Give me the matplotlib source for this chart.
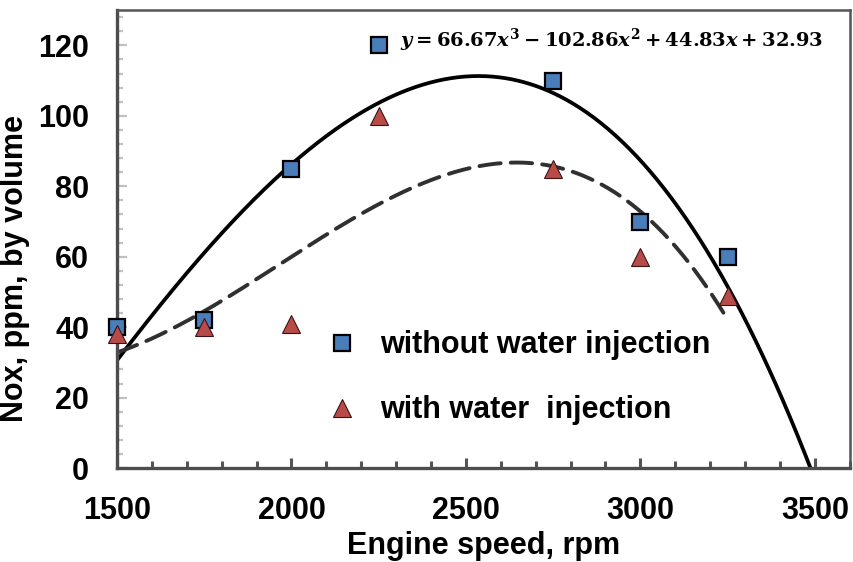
"""NOx emissions vs engine speed, with and without water injection."""

import matplotlib

matplotlib.use("Agg")
import matplotlib.pyplot as plt
import numpy as np
from matplotlib.ticker import MultipleLocator
from numpy.polynomial import Polynomial

speed = [1500, 1750, 2000, 2250, 2750, 3000, 3250]
nox_without = [40, 42, 85, 120, 110, 70, 60]
nox_with = [38, 40, 41, 100, 85, 60, 49]

label_without = "without water injection"
label_with = "with water  injection"
equation = r"$y = 66.67x^3 - 102.86x^2 + 44.83x + 32.93$"

plt.rcParams.update(
    {
        "font.family": ["Liberation Sans", "DejaVu Sans"],
        "font.weight": "bold",
        "axes.labelweight": "bold",
        "font.size": 22,
        "mathtext.fontset": "custom",
        "mathtext.rm": "DejaVu Serif:bold",
        "mathtext.it": "DejaVu Serif:italic:bold",
        "mathtext.bf": "DejaVu Serif:bold",
    }
)

fig = plt.figure(figsize=(8.54, 5.62), dpi=100)
ax = fig.add_axes([0.137, 0.167, 0.858, 0.815])

# cubic trendlines, like the spreadsheet ones
fit_without = Polynomial.fit(speed, nox_without, 3)
fit_with = Polynomial.fit(speed, nox_with, 3)
xs_long = np.linspace(speed[0], 3500, 400)
xs_short = np.linspace(speed[0], speed[-1], 400)
ax.plot(xs_long, fit_without(xs_long), color="black", linewidth=2.7, zorder=2)
ax.plot(xs_short, fit_with(xs_short), color="#303030", linewidth=2.8,
        dashes=(5.5, 2.6), dash_capstyle="round", zorder=2)

ax.plot(speed, nox_without, linestyle="none", marker="s", markersize=11,
        markerfacecolor="#4A7EBB", markeredgecolor="black", markeredgewidth=1.6,
        label=label_without, zorder=3, clip_on=False)
ax.plot(speed, nox_with, linestyle="none", marker="^", markersize=13,
        markerfacecolor="#B84A48", markeredgecolor="#3A1414", markeredgewidth=0.8,
        label=label_with, zorder=3, clip_on=False)

ax.set_xlim(1500, 3600)
ax.set_ylim(0, 130)
ax.xaxis.set_major_locator(MultipleLocator(500))
ax.xaxis.set_minor_locator(MultipleLocator(100))
ax.yaxis.set_major_locator(MultipleLocator(20))
ax.yaxis.set_minor_locator(MultipleLocator(4))
ax.set_xticks([1500, 2000, 2500, 3000, 3500])
ax.set_yticks([0, 20, 40, 60, 80, 100, 120])

ax.tick_params(axis="x", which="both", direction="in", color="#555555", width=2.2, pad=20)
ax.tick_params(axis="x", which="major", length=7)
ax.tick_params(axis="x", which="minor", length=5)
ax.tick_params(axis="y", which="both", direction="in", color="#C0C0C0", width=1.6, pad=20)
ax.tick_params(axis="y", which="major", length=7)
ax.tick_params(axis="y", which="minor", length=4)

for side in ("left", "bottom"):
    ax.spines[side].set_linewidth(2.4)
    ax.spines[side].set_color("#4D4D4D")
for side in ("top", "right"):
    ax.spines[side].set_linewidth(1.8)
    ax.spines[side].set_color("#555555")

ax.set_xlabel("Engine speed, rpm", labelpad=4)
ax.set_ylabel("Nox, ppm, by volume")
ax.yaxis.set_label_coords(-0.119, 0.435)

ax.text(0.386, 0.934, equation, transform=ax.transAxes, fontsize=14, va="center", ha="left")

ax.legend(loc="center left", bbox_to_anchor=(0.2865, 0.197), frameon=False,
          borderpad=0, borderaxespad=0, handlelength=1.0, handletextpad=0.75,
          labelspacing=1.15, markerscale=1.0, fontsize=22)

fig.savefig("out.png", dpi=100)
